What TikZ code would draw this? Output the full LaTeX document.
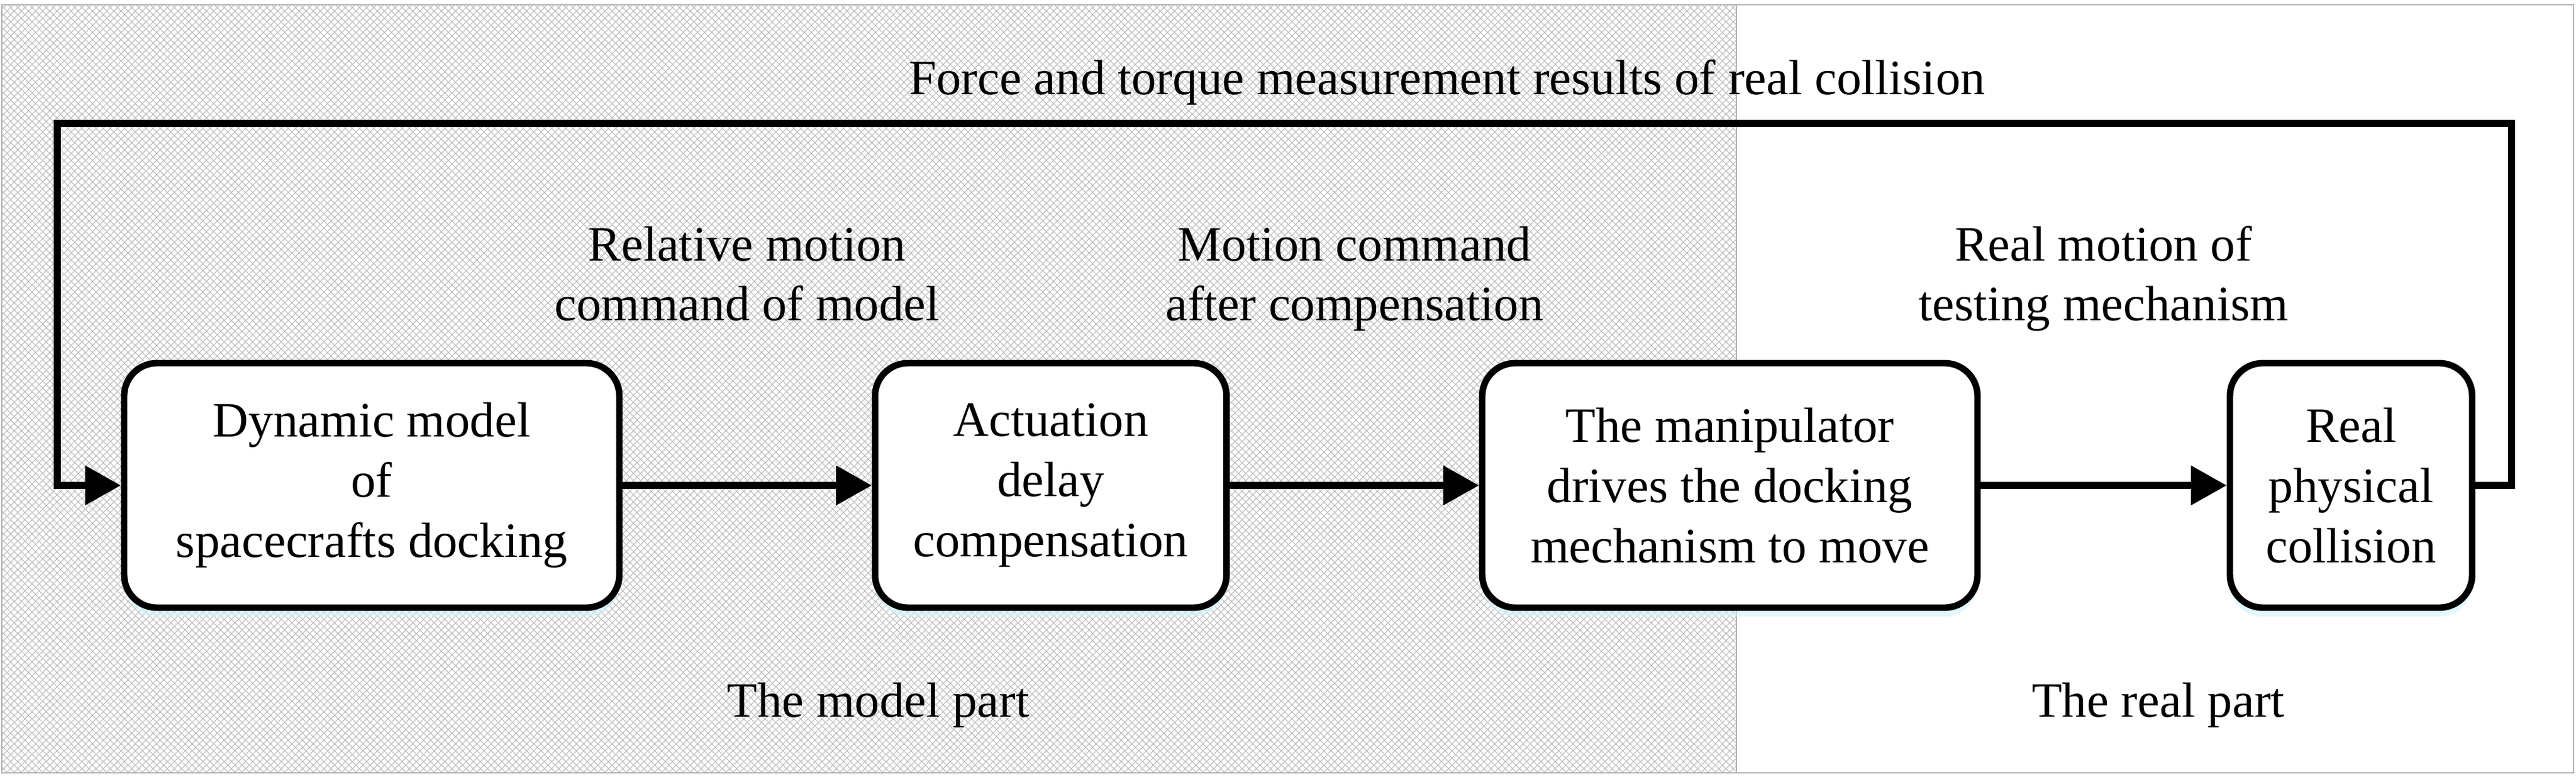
\documentclass[tikz,border=0pt]{standalone}
\usepackage{fontspec}
\setmainfont{Liberation Serif}
\usetikzlibrary{arrows.meta,shadows,patterns.meta,positioning}

\tikzset{
    block/.style={draw, line width=3.1pt, rounded corners=0.55cm, fill=white,
        align=center, inner sep=0pt, minimum height=4.10cm,
        drop shadow={shadow xshift=0pt, shadow yshift=-0.15cm, fill=blue!30!cyan!18, opacity=0.6}},
    flow/.style={line width=3.2pt, -{Triangle[length=6mm,width=6.4mm]}},
    tag/.style={align=center, anchor=base, inner sep=0pt},
    frameline/.style={black!30, line width=0.8pt}
}

\begin{document}
\begin{tikzpicture}[font=\fontsize{23.6}{28.7}\selectfont]
    \useasboundingbox (0,0) rectangle (43.17,13.07);
    % hatched model part, left
    \fill[pattern={Hatch[angle=45,distance=2.4pt,line width=0.4pt]}, pattern color=black!24]
        (0.03,0.11) rectangle (29.10,12.99);
    % outer frame and the split
    \draw[frameline] (0.03,0.11) rectangle (43.13,12.99);
    \draw[frameline] (29.10,0.11) -- (29.10,12.99);

    % blocks, all on y = 4.93
    \node[block, minimum width=8.30cm] (dyn) at (6.23,4.93) {Dynamic model\\of\\spacecrafts docking};
    \node[block, minimum width=5.89cm] (delay) at (17.61,4.93) {Actuation\\delay\\compensation};
    \node[block, minimum width=8.30cm] (manip) at (28.99,4.93) {The manipulator\\drives the docking\\mechanism to move};
    \node[block, minimum width=4.06cm] (coll) at (39.40,4.93) {Real\\physical\\collision};

    % forward path
    \draw[flow] (dyn) -- (delay);
    \draw[flow] (delay) -- (manip);
    \draw[flow] (manip) -- (coll);

    % feedback loop over the top
    \coordinate (fbr) at (42.09,11.00);
    \coordinate (fbl) at (0.96,11.00);
    \draw[flow] (coll.east) -| (fbr) -- (fbl) |- (dyn.west);

    % signal names (base = last line)
    \node[tag] (fbtext) at (24.25,11.48) {Force and torque measurement results of real collision};
    \node[tag] (cmdmodel) at (12.52,7.69) {Relative motion\\command of model};
    \node[tag] (cmdcomp) at (22.70,7.69) {Motion command\\after compensation};
    \node[tag] (realmotion) at (35.25,7.69) {Real motion of\\testing mechanism};

    % part names
    \node[tag] (modelpart) at (14.72,1.05) {The model part};
    \node[tag] (realpart) at (36.17,1.05) {The real part};
\end{tikzpicture}
\end{document}
